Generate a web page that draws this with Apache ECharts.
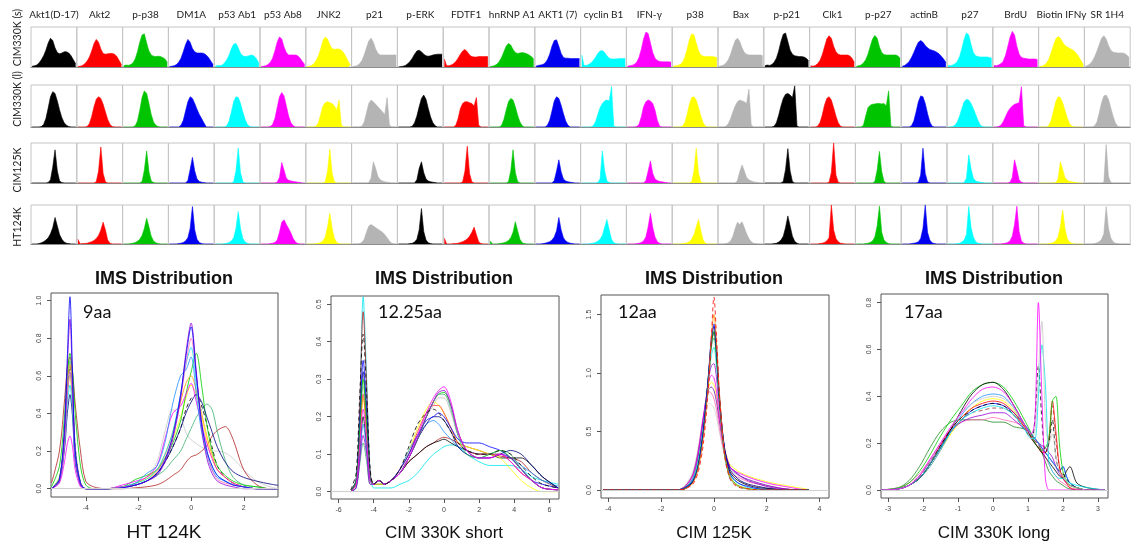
<!DOCTYPE html>
<html><head><meta charset="utf-8">
<script src="https://cdn.jsdelivr.net/npm/echarts@6/dist/echarts.min.js"></script>
<style>html,body{margin:0;padding:0;background:#fff}#c{width:1136px;height:544px}</style>
</head><body><div id="c"></div>
<script>
// ---------------- DATA ----------------
const markers = ['Akt1(D-17)','Akt2','p-p38','DM1A','p53 Ab1','p53 Ab8','JNK2','p21','p-ERK','FDTF1','hnRNP A1','AKT1 (7)','cyclin B1','IFN-\u03b3','p38','Bax','p-p21','Clk1','p-p27','actinB','p27','BrdU','Biotin IFNy','SR 1H4'];
const rowNames = ['CIM330K (s)','CIM330K (l)','CIM125K','HT124K'];

// 20-bin histograms, fraction of panel height
const histCIM330s = [
[0.02,0.03,0.05,0.1,0.18,0.28,0.42,0.6,0.72,0.66,0.48,0.36,0.33,0.35,0.38,0.38,0.35,0.28,0.18,0.08],
[0.01,0.02,0.04,0.08,0.15,0.25,0.4,0.58,0.69,0.62,0.45,0.34,0.32,0.33,0.34,0.34,0.32,0.26,0.16,0.06],
[0.03,0.05,0.04,0.06,0.1,0.2,0.38,0.62,0.8,0.83,0.6,0.4,0.3,0.27,0.26,0.27,0.26,0.24,0.2,0.12],
[0.01,0.02,0.03,0.06,0.12,0.22,0.38,0.56,0.69,0.62,0.46,0.38,0.35,0.35,0.35,0.34,0.3,0.24,0.15,0.06],
[0.02,0.04,0.03,0.05,0.1,0.18,0.3,0.46,0.57,0.59,0.48,0.34,0.28,0.26,0.27,0.29,0.3,0.27,0.2,0.1],
[0.01,0.02,0.03,0.06,0.12,0.22,0.4,0.62,0.75,0.7,0.5,0.36,0.3,0.3,0.3,0.3,0.28,0.22,0.14,0.06],
[0.01,0.02,0.04,0.08,0.16,0.28,0.45,0.66,0.75,0.7,0.55,0.46,0.44,0.45,0.45,0.42,0.36,0.26,0.14,0.05],
[0.01,0.02,0.04,0.08,0.16,0.3,0.48,0.65,0.72,0.62,0.45,0.34,0.3,0.3,0.3,0.3,0.3,0.3,0.3,0.3],
[0,0.01,0.02,0.04,0.08,0.14,0.22,0.32,0.4,0.42,0.38,0.32,0.28,0.27,0.28,0.3,0.31,0.32,0.32,0.32],
[0.2,0.03,0.03,0.05,0.08,0.14,0.22,0.32,0.4,0.44,0.38,0.3,0.26,0.25,0.25,0.26,0.26,0.26,0.26,0.26],
[0.01,0.02,0.04,0.07,0.14,0.24,0.38,0.52,0.59,0.55,0.44,0.36,0.34,0.35,0.36,0.35,0.33,0.3,0.26,0.2],
[0.02,0.04,0.05,0.06,0.1,0.18,0.32,0.52,0.66,0.68,0.52,0.34,0.24,0.22,0.22,0.21,0.21,0.21,0.21,0.21],
[0.3,0.04,0.04,0.06,0.1,0.16,0.24,0.34,0.4,0.41,0.36,0.28,0.22,0.2,0.2,0.2,0.21,0.21,0.21,0.21],
[0.02,0.03,0.04,0.07,0.12,0.24,0.44,0.7,0.87,0.84,0.6,0.36,0.22,0.16,0.14,0.13,0.13,0.13,0.13,0.12],
[0.02,0.03,0.04,0.06,0.12,0.24,0.44,0.68,0.83,0.8,0.6,0.4,0.3,0.27,0.26,0.26,0.26,0.26,0.25,0.24],
[0.02,0.03,0.05,0.1,0.18,0.32,0.5,0.66,0.72,0.64,0.48,0.36,0.32,0.3,0.3,0.3,0.3,0.3,0.3,0.28],
[0.03,0.05,0.04,0.06,0.12,0.22,0.4,0.64,0.82,0.85,0.64,0.42,0.32,0.28,0.27,0.26,0.26,0.25,0.22,0.16],
[0.03,0.02,0.04,0.08,0.16,0.3,0.5,0.7,0.78,0.72,0.52,0.38,0.32,0.3,0.3,0.3,0.3,0.28,0.22,0.12],
[0.02,0.03,0.05,0.1,0.18,0.32,0.52,0.7,0.79,0.72,0.5,0.36,0.31,0.3,0.3,0.3,0.3,0.3,0.28,0.22],
[0.02,0.04,0.08,0.14,0.24,0.36,0.5,0.62,0.66,0.62,0.54,0.48,0.44,0.42,0.4,0.37,0.33,0.27,0.2,0.12],
[0.04,0.03,0.05,0.08,0.14,0.26,0.46,0.7,0.85,0.8,0.56,0.36,0.28,0.26,0.25,0.25,0.25,0.25,0.24,0.22],
[0.04,0.03,0.05,0.08,0.14,0.28,0.5,0.74,0.89,0.8,0.52,0.32,0.24,0.22,0.21,0.2,0.2,0.2,0.2,0.18],
[0.01,0.02,0.05,0.1,0.2,0.36,0.54,0.7,0.76,0.72,0.62,0.54,0.5,0.47,0.44,0.4,0.34,0.26,0.16,0.06],
[0.02,0.04,0.08,0.15,0.26,0.4,0.56,0.72,0.78,0.7,0.54,0.42,0.37,0.36,0.35,0.35,0.35,0.34,0.3,0.24]
];
const histCIM330l = [
[0,0,0,0,0.01,0.06,0.2,0.45,0.72,0.84,0.8,0.62,0.4,0.22,0.1,0.04,0.01,0,0,0],
[0,0,0,0,0.01,0.08,0.25,0.48,0.66,0.72,0.68,0.54,0.36,0.18,0.06,0.01,0,0,0,0],
[0,0,0,0,0,0.03,0.14,0.4,0.7,0.86,0.8,0.56,0.3,0.12,0.04,0.01,0,0,0,0],
[0,0,0,0,0,0.04,0.16,0.38,0.6,0.72,0.68,0.56,0.42,0.3,0.2,0.1,0,0,0,0],
[0,0,0,0,0,0.03,0.14,0.36,0.6,0.72,0.7,0.56,0.36,0.18,0.06,0.01,0,0,0,0],
[0,0,0,0,0.01,0.06,0.2,0.46,0.72,0.82,0.74,0.5,0.26,0.1,0.03,0,0,0,0,0],
[0,0,0,0,0.02,0.1,0.3,0.5,0.58,0.6,0.58,0.56,0.5,0.4,0.64,0.05,0,0,0,0],
[0,0,0,0,0.02,0.12,0.34,0.56,0.64,0.6,0.54,0.48,0.42,0.36,0.3,0.7,0.05,0,0,0],
[0,0,0,0,0,0,0.02,0.1,0.26,0.48,0.68,0.76,0.66,0.44,0.24,0.1,0.03,0,0,0],
[0,0,0,0,0,0.04,0.2,0.44,0.56,0.6,0.6,0.58,0.56,0.5,0.7,0.04,0,0,0,0],
[0,0,0,0,0,0.04,0.18,0.4,0.6,0.68,0.64,0.48,0.28,0.12,0.03,0,0,0,0,0],
[0,0,0,0,0,0.04,0.16,0.38,0.62,0.72,0.68,0.52,0.32,0.14,0.04,0,0,0,0,0],
[0,0,0,0,0,0.03,0.12,0.3,0.46,0.56,0.62,0.64,0.62,0.96,0.02,0,0,0,0,0],
[0,0,0,0,0.01,0.06,0.24,0.48,0.6,0.64,0.62,0.56,0.4,0.16,0.02,0,0,0,0,0],
[0,0,0,0,0.02,0.1,0.3,0.54,0.7,0.72,0.64,0.46,0.26,0.1,0.02,0,0,0,0,0],
[0,0,0,0.02,0.08,0.2,0.36,0.5,0.6,0.64,0.62,0.6,0.56,0.9,0.05,0,0,0,0,0],
[0,0,0,0,0.02,0.1,0.28,0.5,0.68,0.78,0.8,0.76,0.7,0.98,0.02,0,0,0,0,0],
[0,0,0,0.02,0.1,0.28,0.52,0.68,0.72,0.64,0.46,0.26,0.1,0.02,0,0,0,0,0,0],
[0,0,0,0.04,0.26,0.46,0.52,0.54,0.55,0.56,0.56,0.55,0.56,0.5,0.86,0.02,0,0,0,0],
[0,0,0,0,0.03,0.14,0.36,0.6,0.74,0.72,0.56,0.32,0.12,0.02,0,0,0,0,0,0],
[0,0,0.01,0.04,0.12,0.26,0.44,0.6,0.66,0.64,0.56,0.44,0.3,0.16,0.05,0.01,0,0,0,0],
[0,0,0.01,0.04,0.12,0.24,0.36,0.44,0.5,0.54,0.56,0.58,0.96,0.03,0,0,0,0,0,0],
[0,0,0,0,0.04,0.16,0.38,0.6,0.72,0.7,0.58,0.4,0.22,0.08,0.02,0,0,0,0,0],
[0,0,0,0,0.03,0.12,0.34,0.58,0.74,0.76,0.66,0.46,0.26,0.1,0.02,0,0,0,0,0]
];
const histCIM125 = [
[0,0,0,0,0,0,0,0.01,0.08,0.4,0.83,0.3,0.05,0.01,0,0,0,0,0,0],
[0,0,0,0,0,0,0,0,0.03,0.3,0.9,0.24,0.03,0,0,0,0,0,0,0],
[0,0,0,0,0,0,0,0,0.04,0.32,0.8,0.28,0.05,0.01,0,0,0,0,0,0],
[0,0,0,0,0,0,0,0,0.06,0.34,0.64,0.3,0.1,0.04,0.02,0.01,0,0,0,0],
[0,0,0,0,0,0,0,0,0.03,0.3,0.87,0.26,0.03,0,0,0,0,0,0,0],
[0,0,0,0,0,0,0,0.02,0.14,0.51,0.32,0.12,0.07,0.05,0.04,0.03,0.02,0.01,0,0],
[0,0,0,0,0,0,0,0,0.03,0.3,0.85,0.24,0.03,0,0,0,0,0,0,0],
[0,0,0,0,0,0,0,0.01,0.12,0.53,0.36,0.16,0.08,0.05,0.03,0.02,0.01,0,0,0],
[0,0,0,0,0,0,0,0,0.08,0.36,0.53,0.26,0.1,0.05,0.03,0.02,0.01,0,0,0],
[0,0,0,0,0,0,0,0,0.03,0.3,0.92,0.24,0.03,0,0,0,0,0,0,0],
[0,0,0,0,0,0,0,0,0.03,0.3,0.83,0.26,0.04,0,0,0,0,0,0,0],
[0,0,0,0,0,0,0,0,0.06,0.3,0.58,0.28,0.1,0.05,0.03,0.02,0.01,0,0,0],
[0,0,0,0,0,0,0,0.01,0.1,0.8,0.3,0.05,0.01,0,0,0,0,0,0,0],
[0,0,0,0,0,0,0,0,0.06,0.3,0.55,0.24,0.1,0.06,0.04,0.03,0.02,0.01,0,0],
[0,0,0,0,0,0,0,0,0.03,0.3,0.87,0.24,0.03,0,0,0,0,0,0,0],
[0,0,0,0,0,0,0,0,0.06,0.28,0.45,0.3,0.14,0.08,0.05,0.03,0.02,0.01,0,0],
[0,0,0,0,0,0,0,0,0.04,0.34,0.86,0.3,0.04,0,0,0,0,0,0,0],
[0,0,0,0,0,0,0,0,0.02,0.26,1.0,0.2,0.02,0,0,0,0,0,0,0],
[0,0,0,0,0,0,0,0,0.04,0.32,0.79,0.28,0.04,0,0,0,0,0,0,0],
[0,0,0,0,0,0,0,0.02,0.2,0.87,0.24,0.03,0,0,0,0,0,0,0,0],
[0,0,0,0,0,0,0,0.01,0.12,0.7,0.36,0.12,0.05,0.03,0.02,0.01,0,0,0,0],
[0,0,0,0,0,0,0,0.02,0.14,0.58,0.34,0.08,0.02,0,0,0,0,0,0,0],
[0,0,0,0,0,0,0,0.01,0.1,0.53,0.34,0.14,0.07,0.04,0.03,0.02,0.01,0,0,0],
[0,0,0,0,0,0,0,0,0.02,0.96,0.16,0.02,0,0,0,0,0,0,0,0]
];
const histHT124 = [
[0,0,0,0.01,0.03,0.06,0.1,0.16,0.26,0.42,0.68,0.46,0.24,0.12,0.05,0.02,0.01,0,0,0],
[0.12,0,0.01,0.01,0.02,0.04,0.06,0.09,0.14,0.22,0.36,0.56,0.36,0.1,0.02,0,0,0,0,0],
[0,0,0,0.01,0.02,0.04,0.07,0.12,0.22,0.4,0.66,0.44,0.2,0.08,0.03,0.01,0,0,0,0],
[0,0,0,0,0.01,0.02,0.04,0.08,0.16,0.4,0.96,0.36,0.12,0.04,0.01,0,0,0,0,0],
[0,0,0,0,0.01,0.02,0.04,0.08,0.16,0.4,0.83,0.4,0.14,0.05,0.02,0,0,0,0,0],
[0,0,0,0,0.01,0.02,0.04,0.1,0.3,0.56,0.62,0.5,0.4,0.28,0.14,0.05,0.01,0,0,0],
[0,0,0,0,0.01,0.02,0.04,0.08,0.18,0.44,0.79,0.4,0.14,0.04,0.01,0,0,0,0,0],
[0,0,0,0.01,0.04,0.12,0.3,0.46,0.5,0.46,0.42,0.38,0.34,0.3,0.24,0.16,0.08,0.02,0,0],
[0,0,0,0,0,0.01,0.02,0.05,0.12,0.36,0.91,0.32,0.1,0.03,0.01,0,0,0,0,0],
[0.15,0,0,0,0.01,0.01,0.02,0.04,0.06,0.09,0.13,0.2,0.3,0.43,0.24,0.06,0.01,0,0,0],
[0.08,0,0,0,0.01,0.02,0.03,0.05,0.09,0.16,0.3,0.57,0.34,0.12,0.03,0.01,0,0,0,0],
[0,0,0,0.01,0.02,0.04,0.06,0.1,0.18,0.34,0.68,0.36,0.16,0.08,0.04,0.02,0.01,0,0,0],
[0,0,0,0,0.01,0.02,0.04,0.07,0.12,0.22,0.42,0.63,0.36,0.12,0.03,0.01,0,0,0,0],
[0,0,0,0,0.01,0.02,0.04,0.08,0.18,0.44,0.79,0.42,0.18,0.06,0.02,0,0,0,0,0],
[0,0,0,0,0.01,0.02,0.03,0.06,0.12,0.24,0.44,0.63,0.34,0.1,0.02,0,0,0,0,0],
[0,0,0,0.01,0.03,0.08,0.2,0.4,0.56,0.5,0.57,0.42,0.26,0.14,0.06,0.02,0.01,0,0,0],
[0,0,0,0,0.01,0.02,0.05,0.1,0.2,0.42,0.72,0.46,0.2,0.07,0.02,0,0,0,0,0],
[0,0,0,0,0.01,0.02,0.04,0.08,0.16,1.0,0.36,0.14,0.06,0.02,0.01,0,0,0,0,0],
[0,0,0,0,0.01,0.02,0.04,0.08,0.18,0.46,0.97,0.3,0.1,0.04,0.01,0,0,0,0,0],
[0,0,0,0,0.01,0.02,0.03,0.06,0.14,0.4,1.0,0.3,0.1,0.03,0.01,0,0,0,0,0],
[0,0,0,0,0.01,0.02,0.05,0.1,0.24,0.96,0.42,0.18,0.06,0.02,0.01,0,0,0,0,0],
[0,0,0,0,0.01,0.02,0.04,0.08,0.2,0.5,0.97,0.32,0.08,0.02,0,0,0,0,0,0],
[0,0,0,0,0.01,0.02,0.04,0.08,0.18,0.44,0.87,0.4,0.14,0.05,0.02,0,0,0,0,0],
[0,0,0,0,0.01,0.03,0.06,0.12,0.26,0.96,0.4,0.16,0.06,0.02,0.01,0,0,0,0,0]
];

// IMS distribution density curves
const ht124X = [-5.3,-5.0,-4.8,-4.7,-4.6,-4.5,-4.4,-4.2,-4.0,-3.7,-3.2,-2.6,-2.1,-1.7,-1.3,-1.0,-0.7,-0.4,-0.2,0,0.2,0.4,0.6,0.8,1.0,1.3,1.6,2.0,2.5,3.0,3.3];
const ht124Lines = [
[0,0.05,0.28,0.5,0.6,0.46,0.18,0.02,0,0,0,0.01,0.03,0.06,0.14,0.3,0.42,0.38,0.3,0.26,0.24,0.22,0.21,0.2,0.2,0.19,0.16,0.1,0.04,0.01,0],
[0.03,0.2,0.48,0.64,0.7,0.62,0.45,0.2,0.04,0.01,0,0,0.005,0.01,0.02,0.04,0.07,0.1,0.14,0.17,0.18,0.2,0.23,0.28,0.31,0.33,0.26,0.1,0.02,0,0],
[0,0.06,0.3,0.5,0.6,0.45,0.2,0.03,0,0,0,0.01,0.03,0.05,0.09,0.16,0.26,0.38,0.48,0.55,0.5,0.38,0.26,0.16,0.1,0.06,0.03,0.01,0,0,0],
[0,0.05,0.3,0.52,0.65,0.5,0.22,0.03,0,0,0,0.01,0.02,0.04,0.08,0.14,0.22,0.32,0.42,0.48,0.5,0.44,0.34,0.22,0.12,0.06,0.03,0.01,0,0,0],
[0,0.06,0.3,0.55,0.68,0.52,0.22,0.03,0,0,0,0.01,0.02,0.04,0.07,0.1,0.15,0.2,0.26,0.32,0.38,0.42,0.45,0.42,0.3,0.15,0.06,0.02,0.01,0,0],
[0.01,0.12,0.4,0.6,0.72,0.62,0.4,0.12,0.02,0,0,0.01,0.05,0.07,0.1,0.16,0.24,0.36,0.5,0.62,0.72,0.55,0.34,0.2,0.12,0.07,0.04,0.02,0.01,0,0],
[0,0.04,0.22,0.4,0.5,0.38,0.14,0.02,0,0,0,0.01,0.02,0.04,0.08,0.14,0.22,0.32,0.4,0.46,0.5,0.46,0.38,0.3,0.22,0.14,0.09,0.06,0.04,0.025,0.018],
[0,0.05,0.3,0.55,0.66,0.52,0.2,0.03,0,0,0,0.01,0.03,0.06,0.1,0.18,0.3,0.46,0.56,0.6,0.52,0.4,0.28,0.18,0.1,0.06,0.03,0.01,0,0,0],
[0,0.03,0.15,0.24,0.28,0.22,0.1,0.01,0,0,0,0.02,0.04,0.06,0.12,0.26,0.4,0.44,0.5,0.56,0.46,0.34,0.24,0.16,0.1,0.06,0.03,0.01,0,0,0],
[0,0.04,0.25,0.45,0.55,0.42,0.16,0.02,0,0,0,0.01,0.03,0.05,0.1,0.18,0.3,0.5,0.66,0.75,0.56,0.34,0.2,0.12,0.07,0.04,0.02,0.01,0,0,0],
[0,0.05,0.3,0.52,0.62,0.5,0.2,0.03,0,0,0,0.01,0.03,0.08,0.12,0.24,0.45,0.6,0.63,0.7,0.5,0.3,0.18,0.1,0.06,0.04,0.02,0.01,0,0,0],
[0,0.04,0.26,0.5,0.62,0.48,0.18,0.02,0,0,0,0.01,0.02,0.04,0.09,0.16,0.28,0.48,0.66,0.8,0.6,0.36,0.2,0.1,0.05,0.03,0.02,0.01,0,0,0],
[0,0.04,0.3,0.65,0.9,0.55,0.18,0.02,0,0,0,0.005,0.02,0.04,0.07,0.14,0.26,0.48,0.72,0.88,0.62,0.32,0.16,0.08,0.04,0.02,0.01,0,0,0,0],
[0,0.05,0.35,0.7,1.02,0.6,0.2,0.03,0,0,0,0.005,0.02,0.04,0.08,0.15,0.28,0.5,0.7,0.86,0.6,0.35,0.2,0.12,0.07,0.04,0.02,0.01,0,0,0]
];
const cim330sX = [-5.3,-5.0,-4.8,-4.6,-4.4,-4.2,-4.0,-3.7,-3.4,-3.0,-2.5,-2.0,-1.5,-1.0,-0.6,-0.3,0,0.4,0.8,1.3,2.0,2.6,3.2,3.8,4.4,5.0,5.6,6.5];
const cim330sLines = [
[0,0.02,0.14,0.28,0.17,0.04,0.02,0.03,0.02,0.03,0.05,0.1,0.15,0.2,0.23,0.25,0.25,0.21,0.15,0.11,0.1,0.1,0.1,0.08,0.05,0.03,0.01,0.005],
[0,0.02,0.2,0.52,0.3,0.05,0.01,0.01,0.01,0.01,0.02,0.03,0.05,0.08,0.1,0.11,0.12,0.125,0.12,0.1,0.08,0.07,0.07,0.07,0.06,0.04,0.03,0.02],
[0.005,0.03,0.22,0.48,0.28,0.05,0.02,0.03,0.02,0.03,0.05,0.08,0.1,0.12,0.13,0.14,0.145,0.14,0.13,0.12,0.11,0.1,0.095,0.09,0.08,0.05,0.03,0.01],
[0,0.02,0.1,0.2,0.12,0.03,0.02,0.02,0.02,0.03,0.05,0.08,0.1,0.12,0.13,0.135,0.14,0.13,0.12,0.11,0.1,0.1,0.09,0.09,0.09,0.07,0.04,0.01],
[0,0.02,0.13,0.25,0.15,0.03,0.02,0.02,0.02,0.03,0.06,0.11,0.17,0.22,0.24,0.23,0.21,0.17,0.13,0.12,0.11,0.1,0.09,0.06,0.03,0.01,0,0],
[0,0.01,0.09,0.18,0.11,0.03,0.02,0.03,0.02,0.03,0.06,0.11,0.15,0.18,0.19,0.18,0.16,0.14,0.12,0.11,0.1,0.1,0.1,0.09,0.07,0.05,0.03,0.015],
[0,0.03,0.17,0.32,0.2,0.04,0.02,0.03,0.02,0.03,0.05,0.09,0.14,0.18,0.2,0.2,0.19,0.16,0.12,0.1,0.09,0.09,0.1,0.11,0.1,0.07,0.04,0.01],
[0,0.02,0.13,0.26,0.16,0.04,0.02,0.03,0.02,0.03,0.06,0.1,0.16,0.21,0.23,0.23,0.21,0.17,0.13,0.11,0.1,0.1,0.1,0.08,0.05,0.03,0.01,0.005],
[0,0.03,0.18,0.35,0.22,0.04,0.02,0.03,0.02,0.03,0.06,0.1,0.15,0.19,0.2,0.21,0.2,0.17,0.14,0.13,0.13,0.12,0.11,0.09,0.06,0.03,0.02,0.01],
[0,0.03,0.16,0.3,0.18,0.04,0.02,0.03,0.02,0.03,0.05,0.09,0.14,0.2,0.24,0.26,0.265,0.23,0.16,0.11,0.09,0.1,0.11,0.09,0.06,0.03,0.01,0.005],
[0,0.01,0.07,0.13,0.08,0.02,0.02,0.03,0.02,0.03,0.05,0.09,0.14,0.2,0.24,0.26,0.26,0.22,0.15,0.1,0.09,0.1,0.11,0.1,0.06,0.03,0.01,0.005],
[0,0.01,0.08,0.15,0.1,0.02,0.02,0.03,0.02,0.03,0.05,0.09,0.14,0.2,0.24,0.265,0.27,0.23,0.16,0.11,0.09,0.09,0.1,0.09,0.06,0.03,0.01,0.005],
[0,0.02,0.12,0.22,0.14,0.03,0.02,0.03,0.02,0.03,0.05,0.09,0.15,0.21,0.25,0.27,0.28,0.24,0.16,0.11,0.09,0.09,0.1,0.08,0.05,0.03,0.01,0.005],
[0.005,0.05,0.25,0.42,0.26,0.06,0.02,0.03,0.02,0.03,0.06,0.12,0.18,0.21,0.22,0.21,0.19,0.16,0.13,0.11,0.1,0.1,0.11,0.1,0.07,0.04,0.02,0.01]
];
const cim125X = [-4.2,-3,-2,-1.4,-1.1,-0.8,-0.6,-0.4,-0.2,-0.1,0,0.1,0.2,0.4,0.6,0.8,1.0,1.3,1.7,2.2,2.7,3.2,3.6];
const cim125Lines = [
[0,0,0,0,0.04,0.16,0.36,0.6,0.74,0.73,0.7,0.62,0.5,0.3,0.18,0.14,0.11,0.08,0.05,0.02,0.01,0,0],
[0,0,0,0,0.03,0.14,0.34,0.64,0.84,0.83,0.78,0.68,0.54,0.3,0.16,0.12,0.1,0.07,0.05,0.03,0.01,0,0],
[0,0,0,0,0.03,0.12,0.3,0.6,0.88,0.92,0.9,0.8,0.62,0.36,0.22,0.18,0.15,0.12,0.09,0.06,0.04,0.02,0.005],
[0,0,0,0,0.03,0.13,0.32,0.62,0.86,0.88,0.85,0.75,0.6,0.34,0.2,0.15,0.12,0.09,0.06,0.03,0.01,0,0],
[0,0,0,0,0.03,0.12,0.3,0.62,0.92,0.98,0.96,0.84,0.64,0.34,0.2,0.16,0.14,0.11,0.08,0.05,0.03,0.01,0],
[0,0,0,0,0.02,0.1,0.28,0.6,0.95,1.06,1.08,0.95,0.72,0.36,0.2,0.16,0.12,0.08,0.05,0.02,0.01,0,0],
[0,0,0,0,0.02,0.1,0.25,0.55,0.95,1.15,1.22,1.05,0.78,0.34,0.15,0.08,0.05,0.02,0.01,0,0,0,0],
[0,0,0,0,0.02,0.08,0.22,0.52,0.98,1.22,1.3,1.1,0.76,0.3,0.1,0.05,0.02,0.01,0,0,0,0,0],
[0,0,0,0,0.01,0.07,0.2,0.5,0.98,1.25,1.35,1.15,0.8,0.34,0.16,0.1,0.07,0.04,0.02,0.01,0,0,0],
[0,0,0,0,0.02,0.08,0.22,0.52,1.0,1.25,1.36,1.15,0.8,0.32,0.12,0.06,0.03,0.01,0,0,0,0,0],
[0,0,0,0,0.01,0.07,0.2,0.5,1.0,1.28,1.4,1.2,0.82,0.36,0.18,0.12,0.08,0.05,0.03,0.01,0,0,0],
[0,0,0,0,0.02,0.08,0.2,0.5,1.0,1.3,1.42,1.2,0.82,0.34,0.14,0.08,0.05,0.03,0.01,0,0,0,0],
[0,0,0,0,0.01,0.06,0.18,0.45,0.95,1.3,1.5,1.25,0.85,0.32,0.12,0.05,0.03,0.01,0,0,0,0,0],
[0,0,0,0,0.01,0.05,0.15,0.4,0.9,1.3,1.65,1.3,0.85,0.3,0.1,0.04,0.02,0.01,0,0,0,0,0]
];
const cim330lX = [-3.2,-2.7,-2.4,-2.1,-1.8,-1.5,-1.2,-0.9,-0.6,-0.3,0,0.3,0.6,0.9,1.1,1.2,1.3,1.4,1.5,1.6,1.7,1.8,1.9,2.0,2.1,2.2,2.4,2.7,3.2];
const cim330lLines = [
[0,0.01,0.04,0.1,0.18,0.25,0.29,0.3,0.3,0.3,0.29,0.29,0.27,0.26,0.23,0.22,0.2,0.16,0.12,0.08,0.06,0.04,0.03,0.02,0.01,0.005,0,0,0],
[0,0.01,0.03,0.07,0.13,0.2,0.26,0.29,0.3,0.3,0.31,0.3,0.29,0.27,0.24,0.22,0.2,0.17,0.14,0.11,0.08,0.06,0.04,0.03,0.02,0.01,0.005,0,0],
[0,0.005,0.02,0.06,0.12,0.19,0.25,0.29,0.31,0.32,0.33,0.33,0.3,0.26,0.23,0.21,0.2,0.19,0.18,0.16,0.14,0.1,0.07,0.05,0.03,0.02,0.01,0,0],
[0,0.005,0.02,0.05,0.1,0.17,0.24,0.3,0.35,0.38,0.39,0.38,0.34,0.28,0.24,0.22,0.2,0.18,0.16,0.14,0.12,0.1,0.08,0.06,0.04,0.02,0.01,0,0],
[0,0.005,0.02,0.05,0.11,0.18,0.25,0.3,0.34,0.36,0.37,0.36,0.33,0.28,0.24,0.22,0.2,0.18,0.16,0.14,0.12,0.1,0.08,0.1,0.06,0.03,0.01,0,0],
[0,0.005,0.02,0.05,0.1,0.17,0.25,0.32,0.37,0.4,0.41,0.4,0.35,0.28,0.24,0.22,0.2,0.18,0.16,0.14,0.12,0.1,0.08,0.1,0.06,0.03,0.01,0,0],
[0,0.005,0.02,0.05,0.11,0.18,0.25,0.3,0.33,0.34,0.35,0.35,0.32,0.27,0.23,0.21,0.19,0.17,0.16,0.2,0.36,0.22,0.1,0.06,0.04,0.02,0.01,0,0],
[0,0.005,0.02,0.05,0.11,0.19,0.26,0.31,0.35,0.37,0.38,0.37,0.33,0.27,0.22,0.2,0.18,0.16,0.16,0.22,0.38,0.25,0.1,0.05,0.03,0.01,0,0,0],
[0,0.01,0.03,0.08,0.15,0.23,0.3,0.36,0.42,0.45,0.46,0.44,0.38,0.3,0.24,0.2,0.18,0.17,0.18,0.22,0.38,0.4,0.2,0.08,0.04,0.02,0.01,0,0],
[0,0.005,0.02,0.05,0.11,0.18,0.26,0.34,0.41,0.45,0.46,0.43,0.36,0.28,0.22,0.2,0.18,0.16,0.14,0.12,0.1,0.08,0.06,0.05,0.08,0.1,0.03,0.01,0],
[0,0.005,0.02,0.06,0.12,0.19,0.26,0.31,0.34,0.36,0.37,0.36,0.32,0.26,0.22,0.3,0.53,0.3,0.16,0.2,0.3,0.14,0.08,0.07,0.05,0.03,0.01,0,0],
[0,0.005,0.02,0.05,0.11,0.18,0.25,0.3,0.33,0.35,0.36,0.35,0.32,0.26,0.22,0.22,0.4,0.62,0.45,0.12,0.08,0.06,0.05,0.05,0.04,0.03,0.02,0.01,0],
[0,0.005,0.02,0.06,0.12,0.2,0.27,0.33,0.37,0.39,0.4,0.39,0.35,0.28,0.22,0.25,0.5,0.72,0.3,0.2,0.24,0.14,0.08,0.06,0.04,0.02,0.01,0,0],
[0,0.005,0.02,0.06,0.13,0.2,0.27,0.33,0.39,0.43,0.44,0.42,0.36,0.28,0.24,0.3,0.8,0.4,0.05,0,0,0,0,0,0,0,0,0,0]
];

const ht124XTicks = [-4,-2,0,2];
const ht124YTicks = [0,0.2,0.4,0.6,0.8,1.0];
const cim330sXTicks = [-6,-4,-2,0,2,4,6];
const cim330sYTicks = [0,0.1,0.2,0.3,0.4,0.5];
const cim125XTicks = [-4,-2,0,2,4];
const cim125YTicks = [0,0.5,1.0,1.5];
const cim330lXTicks = [-3,-2,-1,0,1,2,3];
const cim330lYTicks = [0,0.2,0.4,0.6,0.8];

const plotTitle = 'IMS Distribution';
const plotXNames = ['HT 124K','CIM 330K short','CIM 125K','CIM 330K long'];
const plotTags = ['9aa','12.25aa','12aa','17aa'];

// ---------------- STYLE / LAYOUT ----------------
const markerColors = ['#000000','#ff0000','#00c400','#0000f0','#00ffff','#ff00ff','#ffff00','#b4b4b4'];
const cellLeft = 31, cellW = 45.8;
const rowTops = [27, 85, 143, 205], rowHeights = [40, 42, 40, 39];
const rowLabelY = [37.5, 99, 170, 227];

const plots = [
  {x:ht124X, lines:ht124Lines, xt:ht124XTicks, yt:ht124YTicks, box:{left:51,top:293,width:227,height:204}, xr:[-5.32,3.3], yr:[-0.044,1.04],
   colors:['#c8c8c8','#b22222','#ffff00','#000000','#3cb371','#00cd00','#000080','#ffa500','#ff00ff','#00e5ee','#1e90ff','#ff69b4','#9400d3','#0000ff'], dash:[3], cx:164, tagX:83, xFont:'19px'},
  {x:cim330sX, lines:cim330sLines, xt:cim330sXTicks, yt:cim330sYTicks, box:{left:331,top:296,width:228,height:203}, xr:[-6.43,6.55], yr:[-0.0195,0.522],
   colors:['#bebebe','#00e5ee','#b22222','#000000','#ffff00','#1e90ff','#000080','#ff3030','#0000ff','#00cd00','#3cb371','#9400d3','#ff00ff','#000000'], dash:[13], cx:444, tagX:378, xFont:'17px'},
  {x:cim125X, lines:cim125Lines, xt:cim125XTicks, yt:cim125YTicks, box:{left:601,top:295,width:228,height:203}, xr:[-4.28,4.36], yr:[-0.068,1.667],
   colors:['#d3d3d3','#ff69b4','#ffff00','#6a0dad','#ff00ff','#9400d3','#00e5ee','#3cb371','#000000','#00cd00','#000080','#0000ff','#ff8c00','#ff0000'], dash:[13], cx:714, tagX:618, xFont:'17px'},
  {x:cim330lX, lines:cim330lLines, xt:cim330lXTicks, yt:cim330lYTicks, box:{left:881,top:294,width:227,height:204}, xr:[-3.2,3.29], yr:[-0.034,0.837],
   colors:['#228b22','#ff69b4','#9400d3','#ffff00','#0000ff','#1e90ff','#a52a2a','#ff0000','#00cd00','#000000','#000000','#00e5ee','#c8c8c8','#ff00ff'], dash:[6,10], cx:994, tagX:904, xFont:'17px'}
];

// ---------------- BUILD ----------------
const grids=[], xAxes=[], yAxes=[], series=[], graphics=[];
[histCIM330s, histCIM330l, histCIM125, histHT124].forEach((rowData, r) => {
  rowData.forEach((vals, c) => {
    const gi = grids.length;
    const color = markerColors[c % 8];
    grids.push({left: cellLeft + c*cellW, top: rowTops[r], width: cellW, height: rowHeights[r], show:true, borderColor:'#c4c4c4', borderWidth:1});
    xAxes.push({gridIndex:gi, type:'value', min:-0.5, max:19.5, axisLine:{show:true, onZero:false, lineStyle:{color:'#8c8c8c', width:1.2}}, axisTick:{show:false}, axisLabel:{show:false}, splitLine:{show:false}});
    yAxes.push({gridIndex:gi, type:'value', min:0, max:1, show:false, splitLine:{show:false}});
    series.push({type:'line', xAxisIndex:gi, yAxisIndex:gi, data: vals.map((v,i)=>[i,v]), symbol:'none', silent:true,
      lineStyle:{width:0.6, color}, areaStyle:{color, opacity:1}});
  });
});

plots.forEach((p, k) => {
  const gi = grids.length;
  grids.push(Object.assign({show:true, borderColor:'#555555', borderWidth:1}, p.box));
  xAxes.push({gridIndex:gi, type:'value', min:p.xr[0], max:p.xr[1],
    axisLine:{show:false, onZero:false},
    axisTick:{show:true, customValues:p.xt, length:4, lineStyle:{color:'#555'}},
    axisLabel:{show:true, customValues:p.xt, fontSize:7, color:'#444', margin:8, fontFamily:'Liberation Sans'},
    splitLine:{show:false}});
  yAxes.push({gridIndex:gi, type:'value', min:p.yr[0], max:p.yr[1],
    axisLine:{show:false, onZero:false},
    axisTick:{show:true, customValues:p.yt, length:4, lineStyle:{color:'#555'}},
    axisLabel:{show:true, customValues:p.yt, fontSize:7, color:'#444', margin:8, rotate:90, fontFamily:'Liberation Sans', formatter:v=>v.toFixed(1)},
    splitLine:{show:false}});
  p.lines.forEach((ys, j) => {
    const s = {type:'line', xAxisIndex:gi, yAxisIndex:gi, symbol:'none', silent:true, smooth:0.3,
      data: ys.slice(0, p.x.length).map((y,i)=>[p.x[i], y]),
      lineStyle:{width:0.8, color:p.colors[j], type: p.dash.indexOf(j)>=0 ? [4,3] : 'solid'}};
    if (j === 0) s.markLine = {silent:true, symbol:'none', label:{show:false}, lineStyle:{color:'#cfcfcf', type:'solid', width:1.2}, data:[{yAxis:0}]};
    series.push(s);
  });
  graphics.push({type:'text', style:{text:plotTitle, x:p.cx, y:279, align:'center', verticalAlign:'middle', font:'bold 18px "Liberation Sans", Arial', fill:'#111'}});
  graphics.push({type:'text', style:{text:plotXNames[k], x:p.cx, y:533, align:'center', verticalAlign:'middle', font:p.xFont + ' "Liberation Sans", Arial', fill:'#111'}});
  graphics.push({type:'text', style:{text:plotTags[k], x:p.tagX, y:312, align:'left', verticalAlign:'middle', font:'18px Lato, "Open Sans", sans-serif', fill:'#111'}});
});

markers.forEach((m, c) => {
  graphics.push({type:'text', style:{text:m, x:cellLeft + (c+0.5)*cellW, y:15, align:'center', verticalAlign:'middle', font:'10px Lato, "Open Sans", sans-serif', fill:'#222'}});
});
rowNames.forEach((n, r) => {
  graphics.push({type:'text', x:18, y:rowLabelY[r], rotation:Math.PI/2, style:{text:n, x:0, y:0, align:'center', verticalAlign:'middle', font:'10.5px Lato, "Open Sans", sans-serif', fill:'#222'}});
});

const chart = echarts.init(document.getElementById('c'), null, {renderer:'canvas'});
chart.setOption({animation:false, backgroundColor:'#ffffff', grid:grids, xAxis:xAxes, yAxis:yAxes, series, graphic:graphics});
</script></body></html>
